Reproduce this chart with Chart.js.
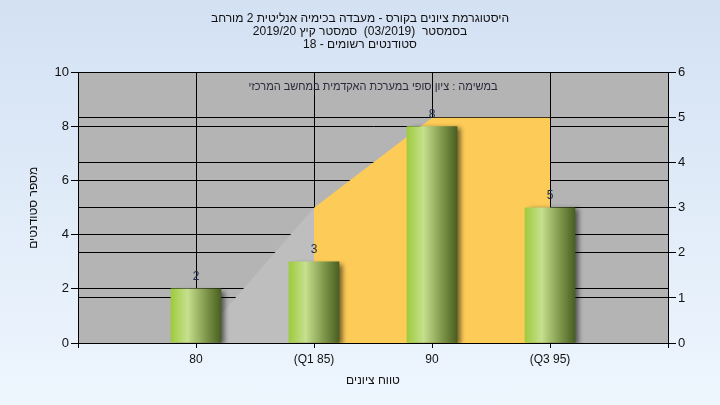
<!DOCTYPE html>
<html>
<head>
<meta charset="utf-8">
<script src="https://cdn.jsdelivr.net/npm/chart.js@4"></script>
<style>
    html, body { margin: 0; padding: 0; }
    body { width: 720px; height: 405px; background: linear-gradient(180deg, #d3e1f3 0%, #eef6fe 100%); }
    #wrap { position: relative; width: 720px; height: 405px; }
</style>
</head>
<body>
<div id="wrap"><canvas id="histogram" width="720" height="405"></canvas></div>
<script>
const labels = ['', '80', '(Q1 85)', '90', '(Q3 95)', ''];
const students = [null, 2, 3, 8, 5, null];
const belowQ1 = [null, 0, 3, null, null, null];
const quartileRange = [null, null, 3, 5, 5, null];
const titleLines = [
    'היסטוגרמת ציונים בקורס - מעבדה בכימיה אנליטית 2 מורחב',
    'בסמסטר  (03/2019)  סמסטר קיץ 2019/20',
    'סטודנטים רשומים - 18'
];
const note = 'במשימה : ציון סופי במערכת האקדמית במחשב המרכזי';
const leftTicks = [0, 2, 4, 6, 8, 10];
const rightTicks = [0, 1, 2, 3, 4, 5, 6];

const FONT = "'Liberation Sans', Arial, sans-serif";

// bar gradient, built from the bar's own position on the x scale
function barGradient(context) {
    const chart = context.chart;
    const x = chart.scales.x;
    if (!x || !chart.chartArea) return '#a8d048';
    const cx = x.getPixelForValue(context.dataIndex);
    const g = chart.ctx.createLinearGradient(cx - 25, 0, cx + 25, 0);
    g.addColorStop(0, '#9ecb3e');
    g.addColorStop(0.33, '#c6e08e');
    g.addColorStop(0.7, '#7f974a');
    g.addColorStop(1, '#485f22');
    return g;
}

const plotBackground = {
    id: 'plotBackground',
    beforeDraw(chart) {
        const { ctx, chartArea: a } = chart;
        ctx.save();
        ctx.fillStyle = '#b4b4b4';
        ctx.fillRect(a.left, a.top, a.right - a.left, a.bottom - a.top);
        ctx.restore();
    }
};

const barShadow = {
    id: 'barShadow',
    beforeDatasetDraw(chart, args) {
        if (args.index !== 0) return;
        const ctx = chart.ctx;
        ctx.save();
        ctx.shadowColor = 'rgba(0,0,0,0.55)';
        ctx.shadowBlur = 5;
        ctx.shadowOffsetX = 4;
        ctx.shadowOffsetY = 2;
    },
    afterDatasetDraw(chart, args) {
        if (args.index !== 0) return;
        chart.ctx.restore();
    }
};

const textLayer = {
    id: 'textLayer',
    afterDatasetsDraw(chart) {
        const { ctx, chartArea: a } = chart;
        ctx.save();
        ctx.direction = 'rtl';
        ctx.font = '11px ' + FONT;
        ctx.textAlign = 'center';
        ctx.textBaseline = 'middle';
        ctx.fillStyle = '#2a2a3a';
        ctx.fillText(note, (a.left + a.right) / 2, a.top + 14);

        ctx.direction = 'ltr';
        ctx.font = '12px ' + FONT;
        ctx.fillStyle = '#1e2c48';
        const meta = chart.getDatasetMeta(0);
        meta.data.forEach((bar, i) => {
            if (students[i] == null) return;
            ctx.fillText(String(students[i]), bar.x, bar.y - 12);
        });
        ctx.restore();
    }
};

const ctxHist = document.getElementById('histogram').getContext('2d');
ctxHist.canvas.style.direction = 'rtl';

const histogram = new Chart(ctxHist, {
    type: 'bar',
    data: {
        labels: labels,
        datasets: [
            {
                label: 'סטודנטים',
                data: students,
                yAxisID: 'y',
                backgroundColor: barGradient,
                borderWidth: 0,
                barThickness: 50,
                order: 0,
            },
            {
                type: 'line',
                label: 'Q1',
                data: quartileRange,
                yAxisID: 'y1',
                borderWidth: 0,
                borderColor: 'rgba(0,0,0,0)',
                backgroundColor: '#fdcb58',
                pointRadius: 0,
                fill: 'origin',
                tension: 0,
                order: 1,
            },
            {
                type: 'line',
                label: 'low',
                data: belowQ1,
                yAxisID: 'y1',
                borderWidth: 0,
                borderColor: 'rgba(0,0,0,0)',
                backgroundColor: '#bebebe',
                pointRadius: 0,
                fill: 'origin',
                tension: 0,
                order: 2,
            }
        ]
    },
    options: {
        responsive: false,
        animation: false,
        devicePixelRatio: 1,
        layout: { padding: 0 },
        plugins: {
            legend: { display: false },
            tooltip: { enabled: false },
            title: {
                display: true,
                text: titleLines,
                color: '#111',
                font: { family: FONT, size: 12, weight: 'normal', lineHeight: 1.1 },
                padding: { top: 12, bottom: 21 },
            }
        },
        scales: {
            x: {
                offset: false,
                grid: { color: '#000', lineWidth: 1, offset: false, tickLength: 5, drawTicks: true },
                border: { color: '#000', width: 1 },
                ticks: { color: '#111', font: { family: FONT, size: 12 }, padding: 4, maxRotation: 0, autoSkip: false },
                title: {
                    display: true,
                    text: 'טווח ציונים',
                    color: '#111',
                    font: { family: FONT, size: 12 },
                    padding: { top: 4, bottom: 17 },
                },
                afterFit(axis) { axis.height = 62; }
            },
            y: {
                position: 'left',
                min: 0,
                max: 10,
                afterBuildTicks(axis) { axis.ticks = leftTicks.map(v => ({ value: v })); },
                grid: { color: '#000', lineWidth: 1, tickLength: 7 },
                border: { color: '#000', width: 1 },
                ticks: { color: '#111', font: { family: FONT, size: 13 }, padding: 2 },
                title: {
                    display: true,
                    text: 'מספר סטודנטים',
                    color: '#111',
                    font: { family: FONT, size: 12 },
                    padding: { top: 26, bottom: 0 },
                },
                afterFit(axis) { axis.width = 78; }
            },
            y1: {
                position: 'right',
                min: 0,
                max: 6,
                afterBuildTicks(axis) { axis.ticks = rightTicks.map(v => ({ value: v })); },
                grid: { color: '#000', lineWidth: 1, tickLength: 8 },
                border: { color: '#000', width: 1 },
                ticks: { color: '#111', font: { family: FONT, size: 13 }, padding: 2 },
                afterFit(axis) { axis.width = 52; }
            }
        }
    },
    plugins: [plotBackground, barShadow, textLayer]
});
</script>
</body>
</html>
